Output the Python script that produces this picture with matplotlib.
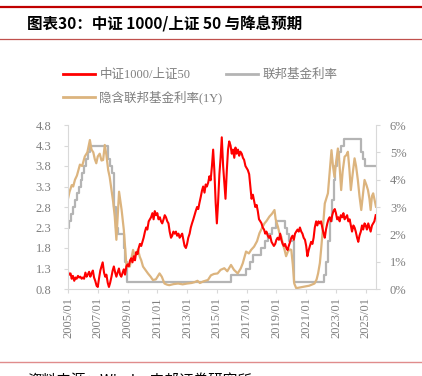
import numpy as np
import matplotlib.pyplot as plt
from matplotlib.lines import Line2D

plt.rcParams['font.family'] = ['Liberation Serif', 'Noto Sans CJK SC', 'DejaVu Sans']

# 中证1000/上证50 ratio (left axis), decimal-year / value pairs
ratio_t = [2005.00, 2005.08, 2005.17, 2005.25, 2005.33, 2005.42, 2005.50, 2005.58, 2005.67, 2005.75,
           2005.83, 2005.92, 2006.00, 2006.08, 2006.17, 2006.25, 2006.33, 2006.42, 2006.50, 2006.58,
           2006.67, 2006.75, 2006.83, 2006.92, 2007.00, 2007.08, 2007.17, 2007.25, 2007.33, 2007.42,
           2007.50, 2007.58, 2007.67, 2007.75, 2007.83, 2007.92, 2008.00, 2008.08, 2008.17, 2008.25,
           2008.33, 2008.42, 2008.50, 2008.58, 2008.67, 2008.75, 2008.83, 2008.92, 2009.00, 2009.08,
           2009.17, 2009.25, 2009.33, 2009.42, 2009.50, 2009.58, 2009.67, 2009.75, 2009.83, 2009.92,
           2010.00, 2010.08, 2010.17, 2010.25, 2010.33, 2010.42, 2010.50, 2010.58, 2010.67, 2010.75,
           2010.83, 2010.92, 2011.00, 2011.08, 2011.17, 2011.25, 2011.33, 2011.42, 2011.50, 2011.58,
           2011.67, 2011.75, 2011.83, 2011.92, 2012.00, 2012.08, 2012.17, 2012.25, 2012.33, 2012.42,
           2012.50, 2012.58, 2012.67, 2012.75, 2012.83, 2012.92, 2013.00, 2013.08, 2013.17, 2013.25,
           2013.33, 2013.42, 2013.50, 2013.58, 2013.67, 2013.75, 2013.83, 2013.92, 2014.00, 2014.08,
           2014.17, 2014.25, 2014.33, 2014.42, 2014.50, 2014.58, 2014.67, 2014.75, 2014.83, 2014.92,
           2015.00, 2015.08, 2015.17, 2015.25, 2015.33, 2015.42, 2015.50, 2015.58, 2015.67, 2015.75,
           2015.83, 2015.92, 2016.00, 2016.08, 2016.17, 2016.25, 2016.33, 2016.42, 2016.50, 2016.58,
           2016.67, 2016.75, 2016.83, 2016.92, 2017.00, 2017.08, 2017.17, 2017.25, 2017.33, 2017.42,
           2017.50, 2017.58, 2017.67, 2017.75, 2017.83, 2017.92, 2018.00, 2018.08, 2018.17, 2018.25,
           2018.33, 2018.42, 2018.50, 2018.58, 2018.67, 2018.75, 2018.83, 2018.92, 2019.00, 2019.08,
           2019.17, 2019.25, 2019.33, 2019.42, 2019.50, 2019.58, 2019.67, 2019.75, 2019.83, 2019.92,
           2020.00, 2020.08, 2020.17, 2020.25, 2020.33, 2020.42, 2020.50, 2020.58, 2020.67, 2020.75,
           2020.83, 2020.92, 2021.00, 2021.08, 2021.17, 2021.25, 2021.33, 2021.42, 2021.50, 2021.58,
           2021.67, 2021.75, 2021.83, 2021.92, 2022.00, 2022.08, 2022.17, 2022.25, 2022.33, 2022.42,
           2022.50, 2022.58, 2022.67, 2022.75, 2022.83, 2022.92, 2023.00, 2023.08, 2023.17, 2023.25,
           2023.33, 2023.42, 2023.50, 2023.58, 2023.67, 2023.75, 2023.83, 2023.92, 2024.00, 2024.08,
           2024.17, 2024.25, 2024.33, 2024.42, 2024.50, 2024.58, 2024.67, 2024.75, 2024.83, 2024.92,
           2025.00, 2025.08, 2025.17, 2025.25, 2025.33, 2025.42, 2025.50, 2025.58, 2025.67]
ratio_v = [1.22, 1.15, 1.18, 1.05, 1.12, 1.00, 1.08, 1.05, 1.12, 1.08,
           1.10, 1.05, 1.08, 1.05, 1.20, 1.10, 1.15, 1.22, 1.10, 1.18,
           1.25, 1.08, 1.00, 0.88, 0.85, 1.05, 1.25, 1.35, 1.45, 1.20,
           1.10, 1.15, 0.95, 0.85, 0.95, 1.10, 1.25, 1.35, 1.20, 1.10,
           1.20, 1.30, 1.15, 1.10, 1.20, 1.28, 1.15, 1.35, 1.40, 1.35,
           1.50, 1.55, 1.45, 1.60, 1.50, 1.70, 1.65, 1.80, 1.90, 1.85,
           1.95, 2.05, 2.20, 2.30, 2.25, 2.45, 2.50, 2.55, 2.65, 2.50,
           2.70, 2.60, 2.65, 2.50, 2.55, 2.45, 2.40, 2.50, 2.60, 2.55,
           2.45, 2.40, 2.20, 2.05, 2.10, 2.20, 2.15, 2.20, 2.10, 2.15,
           2.05, 2.10, 2.15, 2.00, 1.85, 1.80, 1.90, 2.05, 2.15, 2.30,
           2.40, 2.50, 2.60, 2.70, 2.80, 2.75, 2.90, 3.05, 3.20, 3.30,
           3.15, 3.35, 3.30, 3.40, 3.55, 3.45, 3.80, 4.20, 3.70, 2.90,
           2.40, 2.90, 3.60, 4.00, 4.50, 3.80, 3.40, 3.00, 3.70, 4.20,
           4.40, 4.30, 4.10, 4.20, 4.00, 4.25, 4.10, 4.20, 4.05, 4.15,
           4.10, 4.00, 3.95, 3.80, 3.75, 3.70, 3.60, 3.30, 3.00, 3.10,
           2.95, 2.80, 2.85, 2.70, 2.50, 2.45, 2.40, 2.30, 2.25, 2.15,
           2.20, 2.10, 2.05, 2.10, 1.95, 1.90, 1.85, 1.90, 2.00, 2.05,
           2.00, 2.15, 2.00, 1.90, 1.85, 1.90, 1.80, 1.75, 1.85, 1.95,
           2.05, 2.10, 2.00, 2.15, 2.20, 2.25, 2.20, 2.30, 2.20, 2.15,
           2.05, 2.00, 1.85, 1.60, 1.75, 1.85, 1.95, 1.90, 2.05, 2.30,
           2.45, 2.35, 2.45, 2.40, 2.45, 2.30, 2.15, 2.05, 2.25, 2.40,
           2.50, 2.55, 2.45, 2.60, 2.70, 2.75, 2.65, 2.50, 2.55, 2.45,
           2.60, 2.55, 2.65, 2.50, 2.55, 2.60, 2.45, 2.50, 2.35, 2.20,
           2.35, 2.30, 2.20, 2.05, 1.95, 2.10, 2.20, 2.35, 2.25, 2.40,
           2.35, 2.25, 2.40, 2.30, 2.20, 2.35, 2.40, 2.45, 2.60]

# Fed funds target (upper bound, %), change dates
fed_t = [2005.00, 2005.09, 2005.22, 2005.34, 2005.50, 2005.60, 2005.72, 2005.84, 2005.95,
         2006.09, 2006.22, 2006.36, 2006.49, 2007.71, 2007.83, 2007.95, 2008.06, 2008.08,
         2008.22, 2008.33, 2008.77, 2008.83, 2008.96, 2015.96, 2016.96, 2017.21, 2017.46,
         2017.96, 2018.22, 2018.46, 2018.73, 2018.96, 2019.58, 2019.71, 2019.83, 2020.17,
         2020.21, 2022.21, 2022.34, 2022.46, 2022.57, 2022.72, 2022.84, 2022.96, 2023.09,
         2023.22, 2023.34, 2023.57, 2024.71, 2024.85, 2024.96, 2025.69]
fed_v = [2.25, 2.50, 2.75, 3.00, 3.25, 3.50, 3.75, 4.00, 4.25,
         4.50, 4.75, 5.00, 5.25, 4.75, 4.50, 4.25, 3.50, 3.00,
         2.25, 2.00, 1.50, 1.00, 0.25, 0.50, 0.75, 1.00, 1.25,
         1.50, 1.75, 2.00, 2.25, 2.50, 2.25, 2.00, 1.75, 1.25,
         0.25, 0.50, 1.00, 1.75, 2.50, 3.25, 4.00, 4.50, 4.75,
         5.00, 5.25, 5.50, 5.00, 4.75, 4.50, 4.50]

# implied fed funds rate 1Y ahead (%)
impl_t = [2005.00, 2005.10, 2005.25, 2005.35, 2005.47, 2005.60, 2005.80, 2005.95, 2006.13, 2006.30,
          2006.47, 2006.58, 2006.70, 2006.80, 2006.90, 2007.00, 2007.13, 2007.25, 2007.36, 2007.47,
          2007.58, 2007.70, 2007.80, 2007.92, 2008.03, 2008.14, 2008.25, 2008.33, 2008.43, 2008.52,
          2008.60, 2008.68, 2008.75, 2008.85, 2008.93, 2009.05, 2009.15, 2009.25, 2009.37, 2009.48,
          2009.60, 2009.70, 2009.82, 2009.92, 2010.04, 2010.20, 2010.37, 2010.55, 2010.70, 2010.90,
          2011.15, 2011.30, 2011.48, 2011.65, 2011.80, 2012.10, 2012.40, 2012.70, 2013.00, 2013.30,
          2013.50, 2013.70, 2013.86, 2014.10, 2014.40, 2014.60, 2014.80, 2015.05, 2015.25, 2015.50,
          2015.70, 2015.95, 2016.15, 2016.40, 2016.60, 2016.74, 2016.96, 2017.15, 2017.30, 2017.50,
          2017.70, 2017.86, 2018.05, 2018.20, 2018.35, 2018.53, 2018.70, 2018.87, 2018.95, 2019.10,
          2019.20, 2019.33, 2019.45, 2019.55, 2019.65, 2019.77, 2019.90, 2020.00, 2020.10, 2020.20,
          2020.33, 2020.60, 2020.90, 2021.20, 2021.56, 2021.70, 2021.80, 2021.92, 2022.00, 2022.12,
          2022.25, 2022.35, 2022.46, 2022.58, 2022.70, 2022.80, 2022.90, 2023.00, 2023.13, 2023.22,
          2023.35, 2023.45, 2023.58, 2023.70, 2023.80, 2023.90, 2024.00, 2024.12, 2024.25, 2024.35,
          2024.47, 2024.58, 2024.70, 2024.80, 2024.92, 2025.05, 2025.15, 2025.25, 2025.33, 2025.42,
          2025.50, 2025.60, 2025.69]
impl_v = [3.30, 3.55, 3.80, 3.75, 4.00, 4.15, 4.55, 4.50, 4.85, 5.00,
          5.45, 5.10, 5.00, 4.75, 4.60, 4.85, 4.95, 4.70, 4.72, 5.27,
          4.90, 4.35, 4.10, 3.62, 3.20, 2.65, 1.80, 2.60, 3.56, 3.20,
          2.90, 2.50, 2.16, 1.40, 0.82, 0.90, 0.82, 1.10, 1.43, 1.20,
          1.30, 1.45, 1.18, 1.05, 0.82, 0.70, 0.57, 0.45, 0.33, 0.35,
          0.57, 0.45, 0.20, 0.16, 0.14, 0.18, 0.20, 0.17, 0.20, 0.22,
          0.25, 0.30, 0.22, 0.28, 0.33, 0.50, 0.55, 0.57, 0.70, 0.76,
          0.65, 0.88, 0.70, 0.57, 0.75, 0.94, 1.37, 1.30, 1.43, 1.55,
          1.75, 2.04, 2.25, 2.40, 2.50, 2.65, 2.75, 2.89, 2.55, 2.28,
          2.05, 1.91, 1.60, 1.43, 1.20, 1.37, 1.45, 1.43, 0.90, 0.20,
          0.03, 0.06, 0.09, 0.12, 0.20, 0.35, 0.57, 0.95, 1.43, 2.20,
          3.13, 3.30, 3.50, 4.30, 5.08, 4.50, 4.10, 4.60, 5.14, 4.70,
          3.62, 4.30, 4.84, 4.90, 5.02, 4.40, 3.62, 4.20, 4.78, 4.50,
          3.99, 3.40, 2.89, 3.40, 3.99, 3.80, 3.62, 3.30, 2.89, 3.40,
          3.50, 3.25, 3.01]

left_ticks = [0.8, 1.3, 1.8, 2.3, 2.8, 3.3, 3.8, 4.3, 4.8]
right_ticks = [0, 1, 2, 3, 4, 5, 6]
x_years = list(range(2005, 2026, 2))
x_labels = [f'{y}/01' for y in x_years]

RED = '#FF0000'
GRAY = '#B4B4B4'
TAN = '#DCB47E'
TXT = '#7F7F7F'
SPINE = '#D9D9D9'
CJK = ['Noto Sans CJK SC', 'DejaVu Sans']

fig = plt.figure(figsize=(4.22, 3.76), dpi=100)

# header / footer rules
fig.add_artist(Line2D([0, 1], [1 - 6.5 / 376] * 2, color='#C00000', lw=1.6))
fig.add_artist(Line2D([0, 1], [1 - 39 / 376] * 2, color='#C0504D', lw=0.9))
fig.add_artist(Line2D([0, 1], [1 - 362 / 376] * 2, color='#E08C8C', lw=1.0))
fig.text(27 / 422, 1 - 24 / 376, '图表30：中证 1000/上证 50 与降息预期', fontsize=11.2,
         fontweight='bold', va='center', ha='left', color='black', family=CJK)
fig.text(27 / 422, 1 - 381 / 376, '资料来源：Wind，中邮证券研究所', fontsize=10.5,
         va='center', ha='left', color='black', family=CJK)

ax = fig.add_axes([68 / 422, 1 - 289 / 376, (376 - 68) / 422, (289 - 125) / 376])
ax2 = ax.twinx()

ax2.step(fed_t, fed_v, where='post', color=GRAY, lw=1.6)
ax2.plot(impl_t, impl_v, color=TAN, lw=1.6)
ax.plot(ratio_t, ratio_v, color=RED, lw=1.5)
ax.set_zorder(ax2.get_zorder() + 1)
ax.patch.set_visible(False)

ax.set_xlim(2005.0, 2025.69)
ax.set_ylim(0.8, 4.8)
ax2.set_ylim(0, 6)
ax.set_yticks(left_ticks)
ax.set_yticklabels([f'{v:.1f}' for v in left_ticks])
ax2.set_yticks(right_ticks)
ax2.set_yticklabels([f'{v}%' for v in right_ticks])
ax.set_xticks(x_years)
ax.set_xticklabels(x_labels, rotation=90)

for a in (ax, ax2):
    for s in a.spines.values():
        s.set_visible(False)
    a.tick_params(colors=TXT, labelsize=9, length=3, width=0.8, color=SPINE)
ax.spines['left'].set_visible(True)
ax.spines['bottom'].set_visible(True)
ax2.spines['right'].set_visible(True)
ax.spines['left'].set_color(SPINE)
ax.spines['bottom'].set_color(SPINE)
ax2.spines['right'].set_color(SPINE)
ax.tick_params(axis='y', pad=9)
ax2.tick_params(axis='y', pad=7)
ax.tick_params(axis='x', pad=3)

# legend: row 1 red + gray, row 2 tan (column-major fill)
handles = [Line2D([], [], color=RED, lw=2), Line2D([], [], color=TAN, lw=2),
           Line2D([], [], color=GRAY, lw=2)]
labels = ['中证1000/上证50', '隐含联邦基金利率(1Y)', '联邦基金利率']
fig.legend(handles, labels, loc='upper left', bbox_to_anchor=(52 / 422, 1 - 58 / 376),
           ncol=2, frameon=False, handlelength=2.5, columnspacing=0.3, handletextpad=0.4,
           labelspacing=0.75, borderpad=0.4,
           prop={'family': ['Liberation Serif', 'Noto Sans CJK SC'], 'size': 9},
           labelcolor=TXT)

fig.savefig('out.png', dpi=100)
